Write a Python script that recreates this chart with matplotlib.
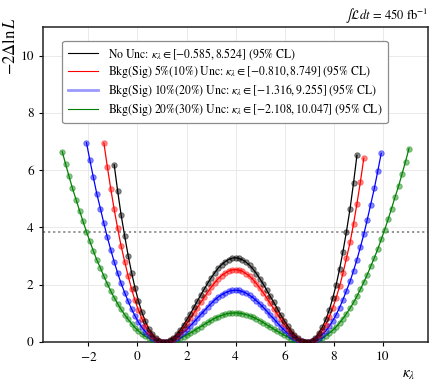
import matplotlib
matplotlib.use("Agg")
import matplotlib.pyplot as plt
from matplotlib.lines import Line2D

# scan points in kappa_lambda
kappa = [-3.07, -2.93, -2.79, -2.65, -2.50, -2.36, -2.22, -2.08, -1.94, -1.80,
         -1.66, -1.51, -1.37, -1.23, -1.09, -0.95, -0.81, -0.67, -0.52, -0.38,
         -0.24, -0.10, 0.04, 0.18, 0.32, 0.46, 0.61, 0.75, 0.89, 1.03,
         1.17, 1.31, 1.45, 1.60, 1.74, 1.88, 2.02, 2.16, 2.30, 2.44,
         2.59, 2.73, 2.87, 3.01, 3.15, 3.29, 3.43, 3.58, 3.72, 3.86,
         4.00,
         4.14, 4.28, 4.42, 4.57, 4.71, 4.85, 4.99, 5.13, 5.27, 5.41,
         5.56, 5.70, 5.84, 5.98, 6.12, 6.26, 6.40, 6.55, 6.69, 6.83,
         6.97, 7.11, 7.25, 7.39, 7.54, 7.68, 7.82, 7.96, 8.10, 8.24,
         8.38, 8.52, 8.67, 8.81, 8.95, 9.09, 9.23, 9.37, 9.51, 9.66,
         9.80, 9.94, 10.08, 10.22, 10.36, 10.50, 10.65, 10.79, 10.93, 11.07]

# -2 Delta lnL values
nll_no_unc = [6.19, 5.28, 4.45, 3.69, 3.02, 2.42, 1.89, 1.43, 1.04, 0.72,
              0.46, 0.27, 0.13, 0.04, 0.00, 0.01, 0.06, 0.15, 0.27, 0.42,
              0.60, 0.79, 0.99, 1.21, 1.43, 1.65, 1.86, 2.06, 2.25, 2.42,
              2.58, 2.70, 2.81, 2.88, 2.93,
              2.94,
              2.92, 2.87, 2.79, 2.68, 2.55, 2.39, 2.21, 2.02, 1.81, 1.60,
              1.38, 1.17, 0.95, 0.75, 0.56, 0.39, 0.25, 0.13, 0.05, 0.01,
              0.01, 0.05, 0.15, 0.31, 0.52, 0.79, 1.12, 1.52, 1.99, 2.54,
              3.16, 3.85, 4.66, 5.55, 6.52]
nll_5_10 = [6.95, 6.12, 5.35, 4.63, 3.97, 3.36, 2.80, 2.30, 1.85, 1.45,
            1.11, 0.81, 0.56, 0.36, 0.21, 0.10, 0.03, 0.00, 0.01, 0.05,
            0.12, 0.22, 0.35, 0.49, 0.66, 0.83, 1.01, 1.20, 1.39, 1.57,
            1.75, 1.92, 2.07, 2.21, 2.32, 2.41, 2.48, 2.52,
            2.53,
            2.51, 2.47, 2.39, 2.30, 2.18, 2.04, 1.88, 1.72, 1.54, 1.35,
            1.16, 0.98, 0.79, 0.62, 0.46, 0.32, 0.20, 0.11, 0.04, 0.005,
            0.004, 0.04, 0.12, 0.24, 0.41, 0.61, 0.87, 1.18, 1.54, 1.94,
            2.40, 2.92, 3.48, 4.12, 4.83, 5.59, 6.42]
nll_10_20 = [6.96, 6.34, 5.75, 5.18, 4.65, 4.14, 3.66, 3.22, 2.80, 2.41,
             2.05, 1.72, 1.42, 1.15, 0.91, 0.69, 0.51, 0.36, 0.23, 0.13,
             0.06, 0.02, 0.00, 0.01, 0.03, 0.08, 0.15, 0.24, 0.34, 0.45,
             0.57, 0.70, 0.83, 0.97, 1.10, 1.23, 1.35, 1.47, 1.57, 1.65,
             1.72, 1.77, 1.80,
             1.81,
             1.80, 1.76, 1.71, 1.63, 1.55, 1.44, 1.33, 1.21, 1.08, 0.94,
             0.81, 0.67, 0.54, 0.42, 0.31, 0.22, 0.14, 0.07, 0.03, 0.003,
             0.003, 0.03, 0.08, 0.15, 0.26, 0.39, 0.55, 0.74, 0.95, 1.20,
             1.48, 1.79, 2.12, 2.49, 2.88, 3.31, 3.76, 4.27, 4.80, 5.37,
             5.97, 6.59]
nll_20_30 = [6.65, 6.21, 5.78, 5.36, 4.96, 4.58, 4.21, 3.85, 3.51, 3.18,
             2.87, 2.58, 2.30, 2.03, 1.78, 1.55, 1.34, 1.14, 0.95, 0.79,
             0.64, 0.50, 0.39, 0.28, 0.20, 0.13, 0.08, 0.04, 0.01, 0.00,
             0.00, 0.02, 0.05, 0.08, 0.13, 0.19, 0.25, 0.32, 0.39, 0.47,
             0.54, 0.62, 0.69, 0.76, 0.83, 0.88, 0.93, 0.97, 1.00, 1.01,
             1.02,
             1.01, 0.99, 0.96, 0.92, 0.87, 0.81, 0.75, 0.68, 0.60, 0.53,
             0.45, 0.38, 0.31, 0.24, 0.18, 0.12, 0.08, 0.04, 0.015, 0.002,
             0.002, 0.015, 0.04, 0.09, 0.14, 0.22, 0.31, 0.41, 0.53, 0.67,
             0.82, 0.99, 1.18, 1.38, 1.60, 1.84, 2.09, 2.35, 2.64, 2.94,
             3.25, 3.58, 3.92, 4.28, 4.66, 5.05, 5.45, 5.87, 6.30, 6.75]

labels = [r"No Unc: $\kappa_\lambda \in [-0.585, 8.524]$ (95% CL)",
          r"Bkg(Sig) 5%(10%) Unc: $\kappa_\lambda \in [-0.810, 8.749]$ (95% CL)",
          r"Bkg(Sig) 10%(20%) Unc: $\kappa_\lambda \in [-1.316, 9.255]$ (95% CL)",
          r"Bkg(Sig) 20%(30%) Unc: $\kappa_\lambda \in [-2.108, 10.047]$ (95% CL)"]
cl95 = 3.84
xticks = [-2, 0, 2, 4, 6, 8, 10]
yticks = [0, 2, 4, 6, 8, 10]

plt.rcParams["font.family"] = "STIXGeneral"
plt.rcParams["mathtext.fontset"] = "stix"

fig = plt.figure(figsize=(4.37, 3.90), dpi=100)
ax = fig.add_axes([0.098, 0.123, 0.881, 0.808])

series = [(kappa[0:101], nll_20_30, "green"),
          (kappa[7:93], nll_10_20, "blue"),
          (kappa[12:88], nll_5_10, "red"),
          (kappa[15:86], nll_no_unc, "black")]
for xs, ys, c in series:
    ax.plot(xs, ys, color=c, lw=0.9, zorder=3)
    ax.plot(xs, ys, ls="none", marker="o", ms=3.9, color=c, alpha=0.45,
            markeredgewidth=0.7, zorder=4)

ax.axhline(cl95, color="0.55", ls=(0, (1.2, 1.6)), lw=1.3, zorder=2)

ax.set_xlim(-3.86, 11.84)
ax.set_ylim(0, 11)
ax.set_xticks(xticks)
ax.set_yticks(yticks)
ax.set_xticklabels([f"${t}$" if t < 0 else str(t) for t in xticks])
ax.tick_params(labelsize=9.5, direction="out", length=3, width=0.8)
ax.grid(True, color="#e6e6e6", lw=0.6, zorder=0)
ax.set_axisbelow(True)
for sp in ax.spines.values():
    sp.set_linewidth(1.1)
    sp.set_color("#222222")

ax.set_xlabel(r"$\kappa_\lambda$", fontsize=11, ha="center")
ax.xaxis.set_label_coords(0.95, -0.085)
ax.set_ylabel(r"$-2\Delta\ln L$", fontsize=12, ha="right", va="bottom")
ax.yaxis.set_label_coords(-0.062, 1.03)
ax.set_title(r"$\int\mathcal{L}dt\,=\,450\ \mathrm{fb}^{-1}$", loc="right",
             fontsize=9, pad=5)

handles = [Line2D([], [], color="black", lw=0.8),
           Line2D([], [], color="red", lw=0.8),
           Line2D([], [], color="#9a9aff", lw=2.0),
           Line2D([], [], color="green", lw=0.8)]
leg = ax.legend(handles, labels, loc="upper left", bbox_to_anchor=(0.035, 0.975),
                fontsize=8.5, handlelength=2.6, framealpha=1, edgecolor="0.55",
                fancybox=True, borderpad=0.45, labelspacing=0.15)
leg.get_frame().set_linewidth(0.9)

fig.savefig("out.png", dpi=100)
